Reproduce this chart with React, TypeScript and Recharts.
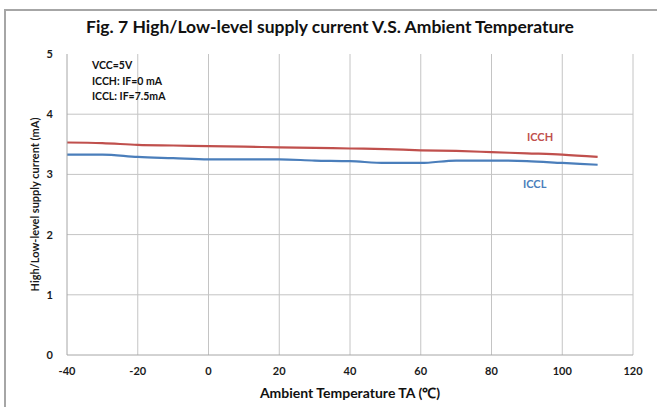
import { CartesianGrid, Line, LineChart, XAxis, YAxis, Label } from "recharts";

const temps = [-40, -30, -20, -10, 0, 10, 20, 30, 40, 50, 60, 70, 80, 90, 100, 110];
const icch = [3.53, 3.52, 3.49, 3.48, 3.47, 3.46, 3.45, 3.44, 3.43, 3.42, 3.4, 3.39, 3.37, 3.35, 3.33, 3.29];
const iccl = [3.33, 3.33, 3.29, 3.27, 3.25, 3.25, 3.25, 3.23, 3.22, 3.19, 3.19, 3.23, 3.23, 3.22, 3.19, 3.16];
const xTicks = [-40, -20, 0, 20, 40, 60, 80, 100, 120];
const yTicks = [0, 1, 2, 3, 4, 5];
const notes = ["VCC=5V", "ICCH: IF=0 mA", "ICCL: IF=7.5mA"];

const data = temps.map((t, i) => ({ t, icch: icch[i], iccl: iccl[i] }));

const FONT = "Lato, 'Open Sans', sans-serif";
const RED = "#c0504d";
const BLUE = "#4a7ebb";

const tickStyle = { fontSize: 11, fontWeight: 700, fill: "#1a1a1a", fontFamily: FONT };

export default function App() {
  return (
    <div
      style={{
        position: "absolute",
        left: 0,
        top: 0,
        width: 657,
        height: 407,
        background: "#fff",
        overflow: "hidden",
        fontFamily: FONT,
      }}
    >
      {/* frame */}
      <div
        style={{
          position: "absolute",
          left: 4,
          top: 9,
          width: 700,
          height: 450,
          borderLeft: "2px solid #a6a6a6",
          borderTop: "2px solid #a6a6a6",
        }}
      />
      <div
        style={{
          position: "absolute",
          left: 0,
          top: 16,
          width: 660,
          textAlign: "center",
          fontSize: 17.5,
          fontWeight: 700,
          color: "#111",
        }}
      >
        Fig. 7 High/Low-level supply current V.S. Ambient Temperature
      </div>

      <LineChart
        width={657}
        height={407}
        data={data}
        margin={{ top: 54, right: 24, bottom: 22, left: 30 }}
        style={{ position: "absolute", left: 0, top: 0 }}
      >
        <CartesianGrid
          stroke="#c4c4c4"
          strokeWidth={1}
          horizontalValues={[1, 2, 3, 4]}
          verticalValues={[-20, 0, 20, 40, 60, 80, 100, 120]}
        />
        <XAxis
          dataKey="t"
          type="number"
          domain={[-40, 120]}
          ticks={xTicks}
          tickLine={false}
          tickSize={0}
          tickMargin={12}
          axisLine={{ stroke: "#a6a6a6" }}
          tick={tickStyle}
          height={30}
        />
        <YAxis
          type="number"
          domain={[0, 5]}
          ticks={yTicks}
          tickLine={false}
          tickSize={0}
          tickMargin={14}
          axisLine={{ stroke: "#a6a6a6" }}
          tick={tickStyle}
          width={37}
        >
          <Label
            content={({ viewBox }: any) => {
              const cx = viewBox.x + 6;
              const cy = viewBox.y + viewBox.height / 2;
              return (
                <text
                  x={cx}
                  y={cy}
                  transform={`rotate(-90, ${cx}, ${cy})`}
                  textAnchor="middle"
                  dominantBaseline="middle"
                  style={{ fontSize: 11, fontWeight: 700, fill: "#1a1a1a", fontFamily: FONT }}
                >
                  High/Low-level supply current (mA)
                </text>
              );
            }}
          />
        </YAxis>
        <Line
          type="monotone"
          dataKey="icch"
          stroke={RED}
          strokeWidth={2.2}
          dot={false}
          isAnimationActive={false}
        />
        <Line
          type="monotone"
          dataKey="iccl"
          stroke={BLUE}
          strokeWidth={2.2}
          dot={false}
          isAnimationActive={false}
        />
      </LineChart>

      {/* conditions */}
      <div
        style={{
          position: "absolute",
          left: 92,
          top: 58,
          fontSize: 10.5,
          fontWeight: 700,
          lineHeight: "15.5px",
          color: "#111",
        }}
      >
        {notes.map((n) => (
          <div key={n}>{n}</div>
        ))}
      </div>
      <div style={{ position: "absolute", left: 527, top: 130, fontSize: 11, fontWeight: 700, color: RED }}>
        ICCH
      </div>
      <div style={{ position: "absolute", left: 523, top: 177, fontSize: 11, fontWeight: 700, color: BLUE }}>
        ICCL
      </div>
      <div
        style={{
          position: "absolute",
          left: 67,
          width: 566,
          top: 383,
          textAlign: "center",
          fontSize: 14,
          fontWeight: 700,
          color: "#111",
        }}
      >
        Ambient Temperature TA (℃)
      </div>
    </div>
  );
}
